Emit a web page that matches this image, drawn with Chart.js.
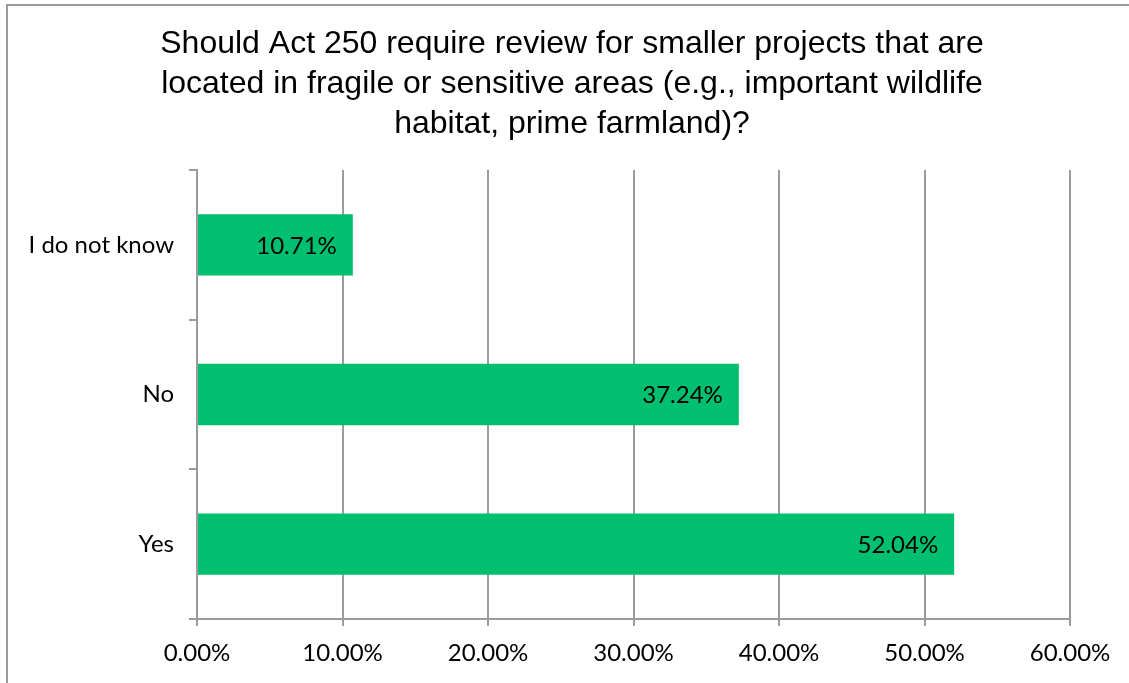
<!DOCTYPE html>
<html lang="en">
<head>
<meta charset="utf-8">
<title>Act 250 review for smaller projects</title>
<script src="https://cdn.jsdelivr.net/npm/chart.js@4.4.1/dist/chart.umd.min.js"></script>
<style>
    html, body {
        margin: 0;
        padding: 0;
        background: #ffffff;
        overflow: hidden;
    }
    .chart-frame {
        position: absolute;
        left: 6px;
        top: 4px;
        width: 1121px;
        height: 677px;
        border-left: 2px solid #9b9b9b;
        border-top: 2px solid #9b9b9b;
    }
    .chart-frame canvas {
        display: block;
    }
</style>
</head>
<body>
<div class="chart-frame">
    <canvas id="responseChart" width="1121" height="677"></canvas>
</div>
<script>
// ============================================================================
// Data
// ============================================================================

const TITLE_LINES = [
    'Should Act 250 require review for smaller projects that are',
    'located in fragile or sensitive areas (e.g., important wildlife',
    'habitat, prime farmland)?'
];

const ANSWERS = ['I do not know', 'No', 'Yes'];

const RESPONSE_SHARE = [10.71, 37.24, 52.04];

const X_TICKS = [0, 10, 20, 30, 40, 50, 60];

// ============================================================================
// Styling
// ============================================================================

const BAR_COLOR = '#00bf6f';
const AXIS_COLOR = '#9b9b9b';
const LABEL_FONT = { family: 'Lato, "Open Sans", sans-serif', size: 24 };

const formatPercent = (value) => `${Number(value).toFixed(2)}%`;

// Writes each value just inside the end of its bar
const barValueLabels = {
    id: 'barValueLabels',
    afterDatasetsDraw(chart) {
        const ctx = chart.ctx;
        const meta = chart.getDatasetMeta(0);
        const values = chart.data.datasets[0].data;

        ctx.save();
        ctx.font = `${LABEL_FONT.size}px ${LABEL_FONT.family}`;
        ctx.fillStyle = '#000000';
        ctx.textAlign = 'right';
        ctx.textBaseline = 'middle';
        meta.data.forEach((bar, i) => {
            ctx.fillText(formatPercent(values[i]), bar.x - 16, bar.y + 1);
        });
        ctx.restore();
    }
};

// The title sits centred on the whole frame, not on the plot area
const centerTitle = {
    id: 'centerTitle',
    afterLayout(chart) {
        if (chart.titleBlock) {
            chart.titleBlock.right = chart.width + 7;
        }
    }
};

// ============================================================================
// Chart
// ============================================================================

const canvas = document.getElementById('responseChart');

new Chart(canvas.getContext('2d'), {
    type: 'bar',
    data: {
        labels: ANSWERS,
        datasets: [{
            data: RESPONSE_SHARE,
            backgroundColor: BAR_COLOR,
            borderWidth: 0,
            barPercentage: 0.41,
            categoryPercentage: 1
        }]
    },
    options: {
        indexAxis: 'y',
        responsive: false,
        animation: false,
        devicePixelRatio: 1,
        layout: {
            padding: { left: 0, right: 59, top: 0, bottom: 0 }
        },
        plugins: {
            legend: { display: false },
            tooltip: { enabled: false },
            title: {
                display: true,
                text: TITLE_LINES,
                color: '#000000',
                font: {
                    family: '"Liberation Sans", Arial, sans-serif',
                    size: 32,
                    weight: 'normal',
                    lineHeight: 1.25
                },
                padding: { top: 18, bottom: 26 }
            }
        },
        scales: {
            x: {
                min: 0,
                max: 60,
                afterFit: (scale) => { scale.height = 64; },
                afterBuildTicks: (scale) => {
                    scale.ticks = X_TICKS.map((value) => ({ value }));
                },
                ticks: {
                    color: '#000000',
                    font: LABEL_FONT,
                    padding: 13,
                    maxRotation: 0,
                    callback: (value) => formatPercent(value)
                },
                grid: {
                    color: AXIS_COLOR,
                    lineWidth: 2,
                    drawTicks: true,
                    tickLength: 7
                },
                border: { display: true, color: AXIS_COLOR, width: 2 }
            },
            y: {
                afterFit: (scale) => { scale.width = 189; },
                ticks: {
                    color: '#000000',
                    font: LABEL_FONT,
                    padding: 15
                },
                grid: {
                    offset: true,
                    drawOnChartArea: false,
                    drawTicks: true,
                    tickLength: 8,
                    color: AXIS_COLOR,
                    lineWidth: 2
                },
                border: { display: true, color: AXIS_COLOR, width: 2 }
            }
        }
    },
    plugins: [barValueLabels, centerTitle]
});
</script>
</body>
</html>
